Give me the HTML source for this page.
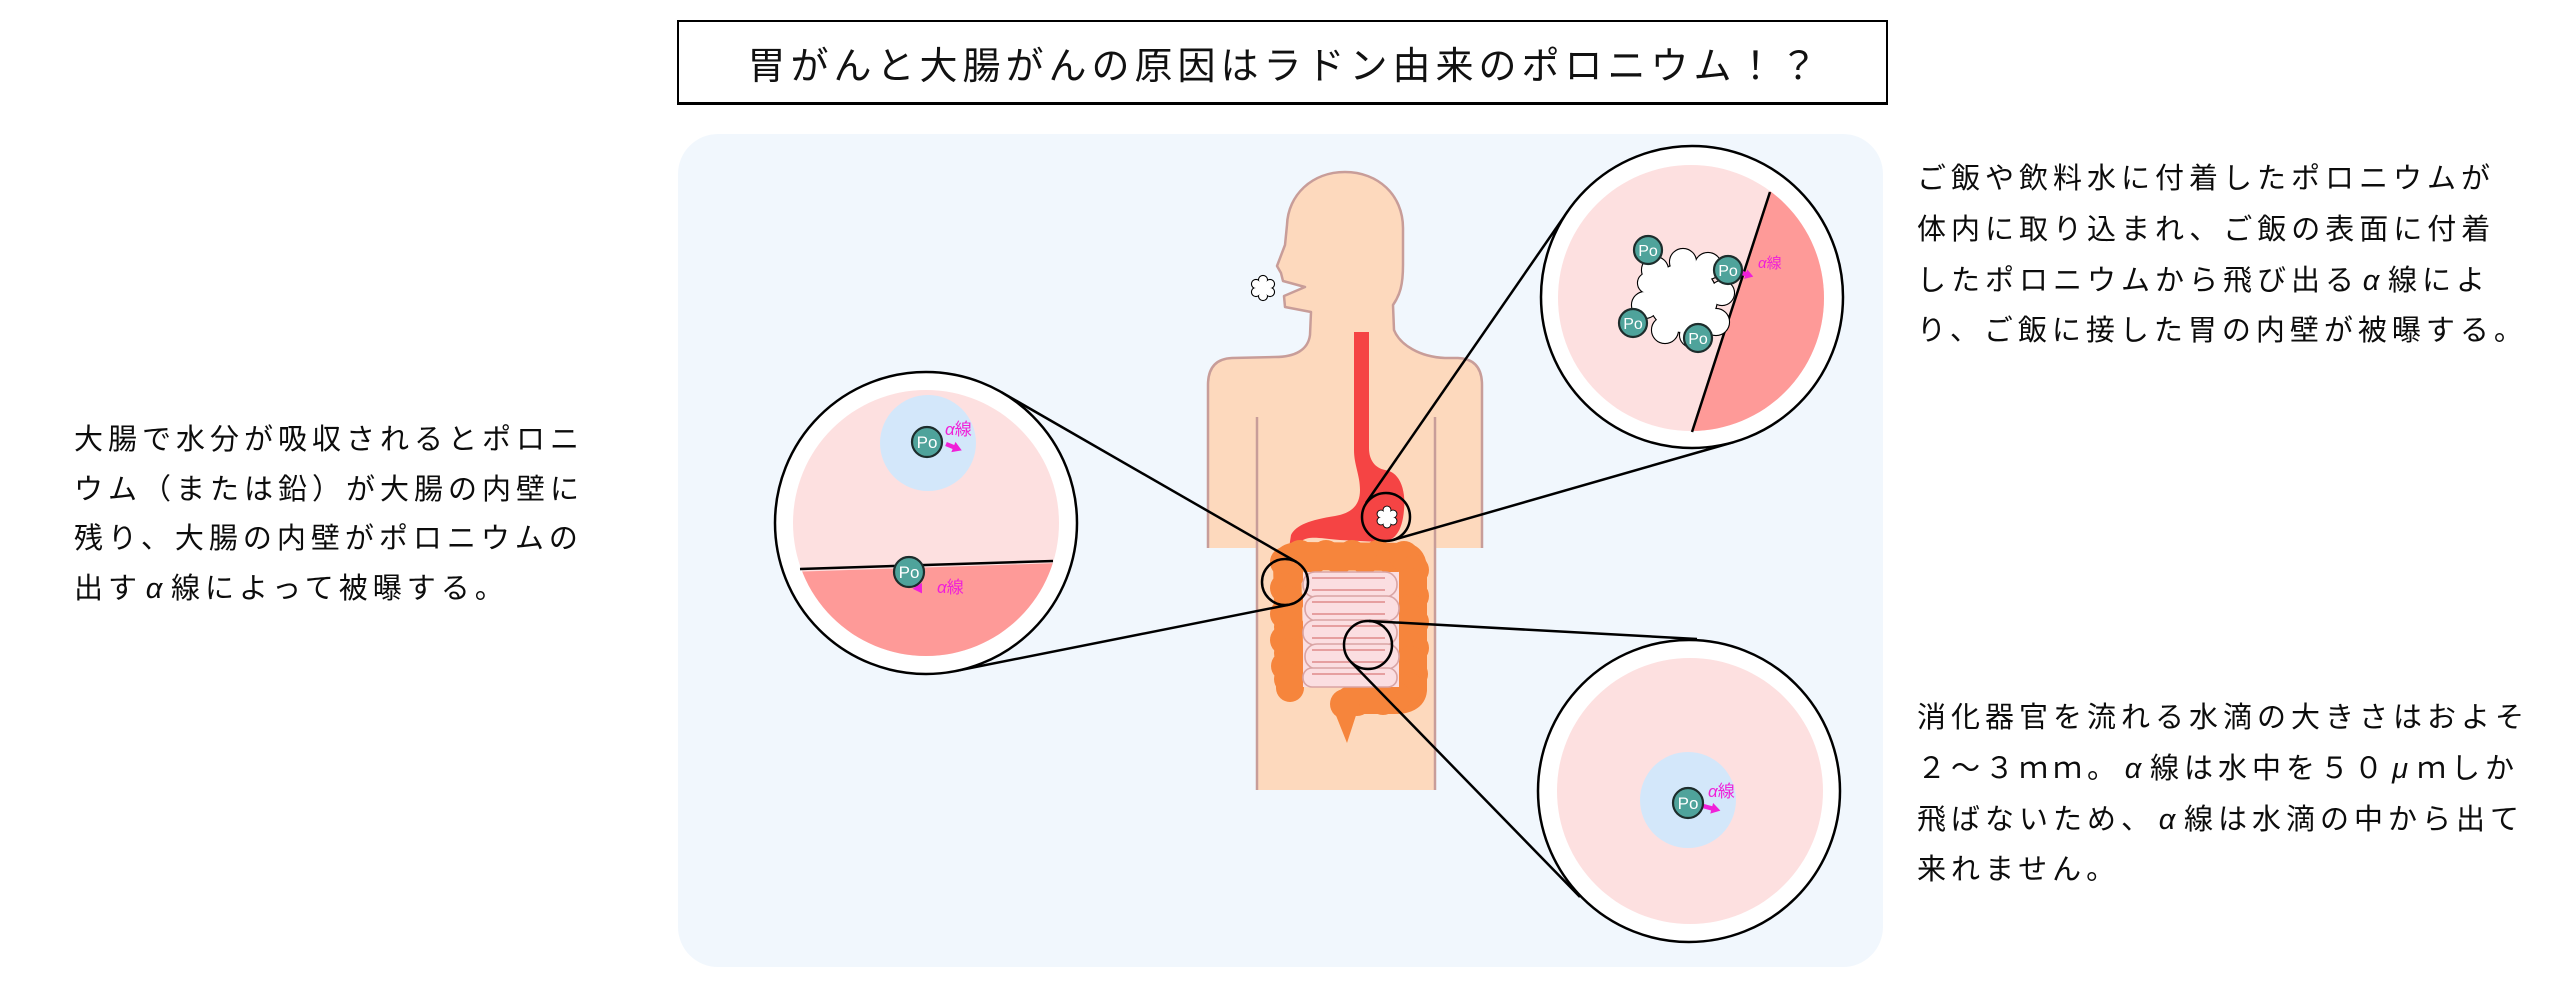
<!DOCTYPE html>
<html><head><meta charset="utf-8">
<style>
html,body{margin:0;padding:0;background:#fff;}
body{width:2560px;height:987px;position:relative;overflow:hidden;font-family:"Liberation Sans","Noto Sans CJK JP",sans-serif;color:#111;}
.title{position:absolute;left:677px;top:20px;width:1202px;height:80px;border:2px solid #000;border-bottom-width:3px;display:flex;align-items:center;justify-content:center;font-size:38px;letter-spacing:5px;white-space:nowrap;box-sizing:content-box;padding-left:5px;}
.txt{position:absolute;font-size:29px;letter-spacing:5px;white-space:nowrap;color:#0c0c0c;}
.a{display:inline-block;width:29px;text-align:center;font-style:italic;}
svg{position:absolute;left:0;top:0;}
</style></head><body>
<svg width="2560" height="987" viewBox="0 0 2560 987" xmlns="http://www.w3.org/2000/svg">
<defs>
<clipPath id="cTR"><circle cx="1691" cy="298" r="133"/></clipPath>
<clipPath id="cL"><circle cx="926" cy="523" r="133"/></clipPath>
</defs>
<!-- panel -->
<rect x="678" y="134" width="1205" height="833" rx="40" ry="40" fill="#f1f7fd"/>

<!-- body -->
<rect x="1257" y="540" width="178" height="250" fill="#fdd9bd"/>
<path d="M1482,548 L1482,385 Q1482,359 1458,358 L1445,358 C1420,357 1400,345 1394,330 L1393,305 C1400,295 1403,285 1403,265 L1403,228 C1403,195 1378,172 1345,172 C1312,172 1288,195 1287,225 L1285,245 L1277,266 L1281,273 L1283,281 L1305,287 L1284,296 L1285,307 L1311,312 L1310,335 C1308,350 1295,357 1275,357 L1232,358 Q1208,359 1208,385 L1208,548 Z" fill="#fdd9bd"/>
<path d="M1482,548 L1482,385 Q1482,359 1458,358 L1445,358 C1420,357 1400,345 1394,330 L1393,305 C1400,295 1403,285 1403,265 L1403,228 C1403,195 1378,172 1345,172 C1312,172 1288,195 1287,225 L1285,245 L1277,266 L1281,273 L1283,281 L1305,287 L1284,296 L1285,307 L1311,312 L1310,335 C1308,350 1295,357 1275,357 L1232,358 Q1208,359 1208,385 L1208,548" fill="none" stroke="#c89d99" stroke-width="2.5" stroke-linejoin="round"/>
<line x1="1257" y1="417" x2="1257" y2="790" stroke="#c89d99" stroke-width="2.5"/>
<line x1="1435" y1="417" x2="1435" y2="790" stroke="#c89d99" stroke-width="2.5"/>

<!-- mouth food blob -->
<g stroke="#000" stroke-width="2.2" fill="#fff">
<circle cx="1263" cy="288" r="7"/><circle cx="1263" cy="280" r="4"/><circle cx="1270" cy="284" r="4"/><circle cx="1270" cy="292" r="4"/><circle cx="1263" cy="296" r="4"/><circle cx="1256" cy="292" r="4"/><circle cx="1256" cy="284" r="4"/>
</g>
<g fill="#fff">
<circle cx="1263" cy="288" r="7"/><circle cx="1263" cy="280" r="4"/><circle cx="1270" cy="284" r="4"/><circle cx="1270" cy="292" r="4"/><circle cx="1263" cy="296" r="4"/><circle cx="1256" cy="292" r="4"/><circle cx="1256" cy="284" r="4"/>
</g>

<!-- esophagus + stomach -->
<path d="M1354,332 L1369,332 L1369,448 C1369,460 1375,468 1385,470 C1400,472 1406,490 1404,510 C1402,535 1392,542 1380,542 L1340,540 C1320,538 1310,536 1303,540 L1300,548 L1289,548 L1291,535 C1296,525 1310,520 1335,516 C1352,513 1360,505 1360,490 C1360,475 1354,465 1354,450 Z" fill="#f54444"/>
<!-- stomach blob -->
<g stroke="#000" stroke-width="1.8" fill="#fff">
<circle cx="1387" cy="517" r="6"/><circle cx="1387" cy="510" r="3.5"/><circle cx="1393" cy="514" r="3.5"/><circle cx="1393" cy="521" r="3.5"/><circle cx="1387" cy="524" r="3.5"/><circle cx="1381" cy="521" r="3.5"/><circle cx="1381" cy="514" r="3.5"/>
</g>
<g fill="#fff">
<circle cx="1387" cy="517" r="6"/><circle cx="1387" cy="510" r="3.5"/><circle cx="1393" cy="514" r="3.5"/><circle cx="1393" cy="521" r="3.5"/><circle cx="1387" cy="524" r="3.5"/><circle cx="1381" cy="521" r="3.5"/><circle cx="1381" cy="514" r="3.5"/>
</g>

<!-- large intestine -->
<g fill="#f6853c">
<path d="M1290,688 L1287,562 Q1288,556 1300,556 L1405,557 Q1413,558 1413,570 L1413,690 Q1412,700 1395,700 L1350,700" fill="none" stroke="#f6853c" stroke-width="28" stroke-linejoin="round" stroke-linecap="round"/>
<circle cx="1285" cy="562" r="15"/><circle cx="1289" cy="575" r="15"/><circle cx="1285" cy="588" r="15"/><circle cx="1289" cy="601" r="15"/><circle cx="1285" cy="614" r="15"/><circle cx="1289" cy="627" r="15"/><circle cx="1285" cy="640" r="15"/><circle cx="1289" cy="653" r="15"/><circle cx="1286" cy="666" r="15"/><circle cx="1289" cy="679" r="15"/>
<circle cx="1300" cy="555" r="15"/><circle cx="1313" cy="559" r="15"/><circle cx="1326" cy="555" r="15"/><circle cx="1339" cy="559" r="15"/><circle cx="1352" cy="555" r="15"/><circle cx="1365" cy="559" r="15"/><circle cx="1378" cy="555" r="15"/><circle cx="1391" cy="559" r="15"/><circle cx="1404" cy="556" r="15"/>
<circle cx="1414" cy="570" r="15"/><circle cx="1410" cy="583" r="15"/><circle cx="1414" cy="596" r="15"/><circle cx="1410" cy="609" r="15"/><circle cx="1414" cy="622" r="15"/><circle cx="1410" cy="635" r="15"/><circle cx="1414" cy="648" r="15"/><circle cx="1410" cy="661" r="15"/><circle cx="1413" cy="674" r="15"/><circle cx="1408" cy="687" r="15"/>
<circle cx="1396" cy="697" r="15"/><circle cx="1383" cy="700" r="15"/><circle cx="1370" cy="698" r="15"/><circle cx="1357" cy="701" r="15"/><circle cx="1345" cy="704" r="15"/>
<polygon points="1331,703 1360,703 1347,743"/>
</g>

<!-- small intestine -->
<rect x="1303" y="572" width="96" height="115" fill="#fbdee1"/>
<g fill="#fbdee1" stroke="#d9a4a4" stroke-width="1.6">
<rect x="1303" y="572" width="94" height="25" rx="12"/>
<rect x="1305" y="596" width="94" height="25" rx="12"/>
<rect x="1303" y="620" width="94" height="25" rx="12"/>
<rect x="1305" y="644" width="94" height="25" rx="12"/>
<rect x="1303" y="668" width="94" height="19" rx="9"/>
</g>
<g stroke="#e08a8a" stroke-width="1.6">
<line x1="1312" y1="578" x2="1385" y2="578"/><line x1="1312" y1="590" x2="1385" y2="590"/><line x1="1312" y1="602" x2="1385" y2="602"/><line x1="1312" y1="614" x2="1385" y2="614"/><line x1="1312" y1="626" x2="1385" y2="626"/><line x1="1312" y1="638" x2="1385" y2="638"/><line x1="1312" y1="650" x2="1385" y2="650"/><line x1="1312" y1="662" x2="1385" y2="662"/><line x1="1312" y1="674" x2="1385" y2="674"/>
</g>

<!-- marker circles -->
<g fill="none" stroke="#000" stroke-width="2.5">
<circle cx="1386" cy="517" r="24"/>
<circle cx="1285" cy="582" r="23"/>
<circle cx="1368" cy="645" r="24"/>
</g>

<!-- connector lines -->
<g stroke="#000" stroke-width="2.5">
<line x1="1366" y1="503" x2="1568" y2="211"/>
<line x1="1393" y1="540" x2="1734" y2="442"/>
<line x1="1296.5" y1="562" x2="1001" y2="392"/>
<line x1="1289.5" y1="604.6" x2="955.5" y2="671"/>
<line x1="1369" y1="621" x2="1697" y2="639"/>
<line x1="1351" y1="662" x2="1580" y2="897"/>
</g>

<!-- top-right circle -->
<circle cx="1692" cy="297" r="151" fill="#fff" stroke="#000" stroke-width="2.5"/>
<circle cx="1691" cy="298" r="133" fill="#fde0e0"/>
<polygon points="1804,87 1900,87 1900,537 1658,537" fill="#fe9a98" clip-path="url(#cTR)"/>
<line x1="1770" y1="192" x2="1692" y2="432" stroke="#000" stroke-width="2.5"/>
<g stroke="#000" stroke-width="2.2" fill="#fff">
<circle cx="1683" cy="298" r="34"/><circle cx="1655" cy="270" r="13"/><circle cx="1683" cy="262" r="13"/><circle cx="1708" cy="266" r="13"/><circle cx="1722" cy="293" r="12"/><circle cx="1716" cy="322" r="13"/><circle cx="1692" cy="335" r="12"/><circle cx="1665" cy="330" r="13"/><circle cx="1645" cy="305" r="13"/><circle cx="1648" cy="283" r="10"/>
</g>
<g fill="#fff">
<circle cx="1683" cy="298" r="34"/><circle cx="1655" cy="270" r="13"/><circle cx="1683" cy="262" r="13"/><circle cx="1708" cy="266" r="13"/><circle cx="1722" cy="293" r="12"/><circle cx="1716" cy="322" r="13"/><circle cx="1692" cy="335" r="12"/><circle cx="1665" cy="330" r="13"/><circle cx="1645" cy="305" r="13"/><circle cx="1648" cy="283" r="10"/>
</g>

<!-- left circle -->
<circle cx="926" cy="523" r="151" fill="#fff" stroke="#000" stroke-width="2.5"/>
<circle cx="926" cy="523" r="133" fill="#fde0e0"/>
<polygon points="700,575 1150,560 1150,700 700,700" fill="#fe9a98" clip-path="url(#cL)"/>
<line x1="800" y1="569" x2="1053" y2="561" stroke="#000" stroke-width="2.5"/>
<circle cx="928" cy="443" r="48" fill="#d3e7fa"/>

<!-- bottom-right circle -->
<circle cx="1689" cy="791" r="151" fill="#fff" stroke="#000" stroke-width="2.5"/>
<circle cx="1690" cy="791" r="133" fill="#fde0e0"/>
<circle cx="1688" cy="800" r="48" fill="#d3e7fa"/>

<!-- arrows -->
<g fill="#f020d8">
<g transform="translate(946,444) rotate(22)"><rect x="0" y="-2.2" width="10" height="4.4"/><polygon points="8,-5.5 17,0 8,5.5"/></g>
<g transform="translate(913,579) rotate(58)"><rect x="0" y="-2.2" width="10" height="4.4"/><polygon points="8,-5.5 17,0 8,5.5"/></g>
<g transform="translate(1703,806) rotate(15)"><rect x="0" y="-2.2" width="11" height="4.4"/><polygon points="9,-5.5 18,0 9,5.5"/></g>
<g transform="translate(1739,272) rotate(18)"><rect x="0" y="-2.2" width="9" height="4.4"/><polygon points="7,-5 15,0 7,5"/></g>
</g>

<!-- Po atoms -->
<g font-family="Liberation Sans, sans-serif" font-size="17" text-anchor="middle">
<g transform="translate(927,442)"><circle r="15" fill="#4fa39b" stroke="#1d2d2c" stroke-width="2.2"/><text y="6" fill="#fff">Po</text></g>
<g transform="translate(909,572)"><circle r="15" fill="#4fa39b" stroke="#1d2d2c" stroke-width="2.2"/><text y="6" fill="#fff">Po</text></g>
<g transform="translate(1688,803)"><circle r="15" fill="#4fa39b" stroke="#1d2d2c" stroke-width="2.2"/><text y="6" fill="#fff">Po</text></g>
<g transform="translate(1648,250)"><circle r="14" fill="#4fa39b" stroke="#1d2d2c" stroke-width="2.2"/><text y="6" fill="#fff" font-size="16">Po</text></g>
<g transform="translate(1728,270)"><circle r="14" fill="#4fa39b" stroke="#1d2d2c" stroke-width="2.2"/><text y="6" fill="#fff" font-size="16">Po</text></g>
<g transform="translate(1633,323)"><circle r="14" fill="#4fa39b" stroke="#1d2d2c" stroke-width="2.2"/><text y="6" fill="#fff" font-size="16">Po</text></g>
<g transform="translate(1698,338)"><circle r="14" fill="#4fa39b" stroke="#1d2d2c" stroke-width="2.2"/><text y="6" fill="#fff" font-size="16">Po</text></g>
</g>

<!-- alpha labels -->
<g fill="#f020d8" font-family="Liberation Sans, Noto Sans CJK JP, sans-serif" font-size="17">
<text x="945" y="435"><tspan font-style="italic">α</tspan>線</text>
<text x="937" y="593"><tspan font-style="italic">α</tspan>線</text>
<text x="1708" y="797"><tspan font-style="italic">α</tspan>線</text>
<text x="1758" y="268" font-size="15"><tspan font-style="italic">α</tspan>線</text>
</g>
</svg>

<div class="title">胃がんと大腸がんの原因はラドン由来のポロニウム！？</div>

<div class="txt" style="left:74px;top:416px;line-height:49.5px;">大腸で水分が吸収されるとポロニ<br>ウム（または鉛）が大腸の内壁に<br>残り、大腸の内壁がポロニウムの<br>出す<span class="a">α</span>線によって被曝する。</div>

<div class="txt" style="left:1917px;top:154px;line-height:50.8px;">ご飯や飲料水に付着したポロニウムが<br>体内に取り込まれ、ご飯の表面に付着<br>したポロニウムから飛び出る<span class="a">α</span>線によ<br>り、ご飯に接した胃の内壁が被曝する。</div>

<div class="txt" style="left:1917px;top:693px;line-height:50.8px;">消化器官を流れる水滴の大きさはおよそ<br>２～３ｍｍ。<span class="a">α</span>線は水中を５０<span class="a">μ</span>ｍしか<br>飛ばないため、<span class="a">α</span>線は水滴の中から出て<br>来れません。</div>
</body></html>
